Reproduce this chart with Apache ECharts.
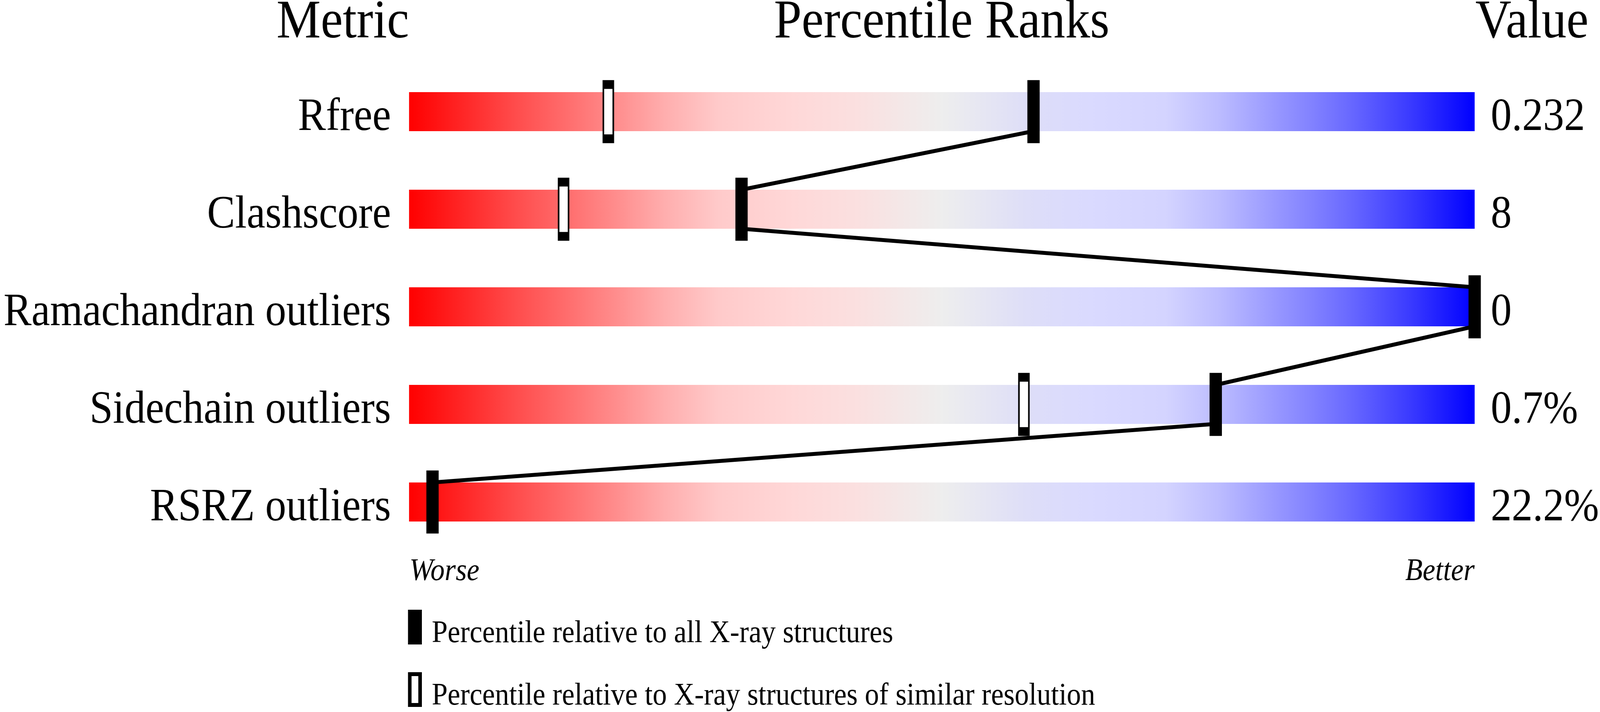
<!DOCTYPE html>
<html>
<head>
<meta charset="utf-8">
<script src="https://cdn.jsdelivr.net/npm/echarts@6/dist/echarts.min.js"></script>
<style>
html,body{margin:0;padding:0;background:#fff;overflow:hidden;}
#chart{position:absolute;left:0;top:0;width:4506px;height:1824px;transform-origin:0 0;}
</style>
</head>
<body>
<div id="chart"></div>
<script>
const metrics = ['Rfree', 'Clashscore', 'Ramachandran outliers', 'Sidechain outliers', 'RSRZ outliers'];
const valueLabels = ['0.232', '8', '0', '0.7%', '22.2%'];
const pctAll = [58.6, 31.2, 100, 75.7, 2.2];
const pctSimilar = [18.7, 14.5, null, 57.7, null];
const headers = ['Metric', 'Percentile Ranks', 'Value'];
const scaleEnds = ['Worse', 'Better'];
const legendNames = ['Percentile relative to all X-ray structures', 'Percentile relative to X-ray structures of similar resolution'];

const FONT = '"Liberation Serif", "Times New Roman", serif';

// the drawing is laid out on a 4506 x 1824 page and fitted to the viewport
const W0 = 4506, H0 = 1824;
const el = document.getElementById('chart');
const sx = (window.innerWidth || W0) / W0;
const sy = (window.innerHeight || H0) / H0;
if (Math.abs(sx - 1) > 0.001 || Math.abs(sy - 1) > 0.001) {
  el.style.transform = 'scale(' + sx + ',' + sy + ')';
}
const chart = echarts.init(el, null, {width: W0, height: H0});

const gradient = new echarts.graphic.LinearGradient(0, 0, 1, 0, [
  {offset: 0.00, color: '#ff0000'},
  {offset: 0.10, color: '#ff4c4c'},
  {offset: 0.19, color: '#ff8a8a'},
  {offset: 0.24, color: '#ffaeae'},
  {offset: 0.29, color: '#ffcaca'},
  {offset: 0.36, color: '#ffd8d8'},
  {offset: 0.42, color: '#fbe0e0'},
  {offset: 0.50, color: '#eeeeee'},
  {offset: 0.58, color: '#dedef8'},
  {offset: 0.64, color: '#dadaff'},
  {offset: 0.71, color: '#d4d4ff'},
  {offset: 0.76, color: '#bcbcff'},
  {offset: 0.81, color: '#9a9aff'},
  {offset: 0.85, color: '#8080ff'},
  {offset: 0.88, color: '#6b6bff'},
  {offset: 0.94, color: '#3a3aff'},
  {offset: 1.00, color: '#0000ff'}
]);

const lineData = [];
for (let i = 0; i < pctAll.length - 1; i++) {
  lineData.push([pctAll[i], i, pctAll[i + 1], i + 1]);
}
const similarData = [];
pctSimilar.forEach((v, i) => { if (v !== null) similarData.push([v, i]); });
const allData = pctAll.map((v, i) => [v, i]);

const labelStyle = {fontFamily: FONT, fontSize: 118, color: '#000'};
const txt = (x, y, text, size, align, italic) => ({
  type: 'text', x: x, y: y, silent: true,
  style: {text: text, fontFamily: FONT, fontSize: size, fontStyle: italic ? 'italic' : 'normal',
          fill: '#000', align: align, verticalAlign: 'middle'}
});
const hiddenAxis = {axisLine: {show: false}, axisTick: {show: false}, splitLine: {show: false}};

chart.setOption({
  backgroundColor: '#ffffff',
  animation: false,
  grid: [
    {left: 1152, right: 353, top: 161, bottom: 413, containLabel: false},
    // label grid: same rows, text sitting on the bar baseline
    {left: 1152, right: 353, top: 177, bottom: 397, containLabel: false}
  ],
  xAxis: [
    {type: 'value', min: 0, max: 100, show: false, gridIndex: 0},
    {type: 'value', min: 0, max: 100, show: false, gridIndex: 1}
  ],
  yAxis: [
    Object.assign({type: 'category', data: metrics, inverse: true, gridIndex: 0, axisLabel: {show: false}}, hiddenAxis),
    Object.assign({type: 'category', data: metrics, inverse: true, position: 'left', gridIndex: 1,
      axisLabel: Object.assign({margin: 51}, labelStyle)}, hiddenAxis),
    Object.assign({type: 'category', data: valueLabels, inverse: true, position: 'right', gridIndex: 1,
      axisLabel: Object.assign({margin: 52, align: 'left'}, labelStyle)}, hiddenAxis)
  ],
  graphic: [
    txt(1152, 59, headers[0], 140, 'right'),
    txt(2652, 59, headers[1], 140, 'center'),
    txt(4155, 59, headers[2], 140, 'left'),
    txt(1153, 1465, scaleEnds[0], 80, 'left', true),
    txt(4153, 1465, scaleEnds[1], 80, 'right', true),
    {type: 'rect', silent: true, shape: {x: 1154, y: 1567, width: 29, height: 79},
     style: {fill: '#000', stroke: '#000', lineWidth: 10}},
    txt(1216, 1624, legendNames[0], 80, 'left'),
    {type: 'rect', silent: true, shape: {x: 1154, y: 1727, width: 29, height: 79},
     style: {fill: '#fff', stroke: '#000', lineWidth: 10}},
    txt(1216, 1784, legendNames[1], 80, 'left')
  ],
  series: [
    {
      type: 'bar', name: 'scale', xAxisIndex: 0, yAxisIndex: 0, barWidth: '40%',
      data: metrics.map(() => 100),
      itemStyle: {color: gradient},
      silent: true, z: 1
    },
    {
      type: 'custom', name: 'connector', xAxisIndex: 0, yAxisIndex: 0, z: 2, silent: true,
      encode: {x: [0, 2], y: [1, 3]},
      data: lineData,
      renderItem: function (params, api) {
        const p1 = api.coord([api.value(0), api.value(1)]);
        const p2 = api.coord([api.value(2), api.value(3)]);
        const half = api.size([0, 1])[1] * 0.2;
        return {
          type: 'line',
          shape: {x1: p1[0], y1: p1[1] + half, x2: p2[0], y2: p2[1] - half},
          style: {stroke: '#000', lineWidth: 10}
        };
      }
    },
    {
      type: 'scatter', name: legendNames[1], xAxisIndex: 0, yAxisIndex: 0, z: 3, clip: false,
      symbol: 'rect', symbolSize: [28, 139],
      itemStyle: {color: '#fff', borderColor: '#000', borderWidth: 10, opacity: 1},
      data: similarData, silent: true
    },
    {
      type: 'scatter', name: legendNames[0], xAxisIndex: 0, yAxisIndex: 0, z: 4, clip: false,
      symbol: 'rect', symbolSize: [30, 140],
      itemStyle: {color: '#000', borderColor: '#000', borderWidth: 10, opacity: 1},
      data: allData, silent: true
    }
  ]
});
</script>
</body>
</html>
